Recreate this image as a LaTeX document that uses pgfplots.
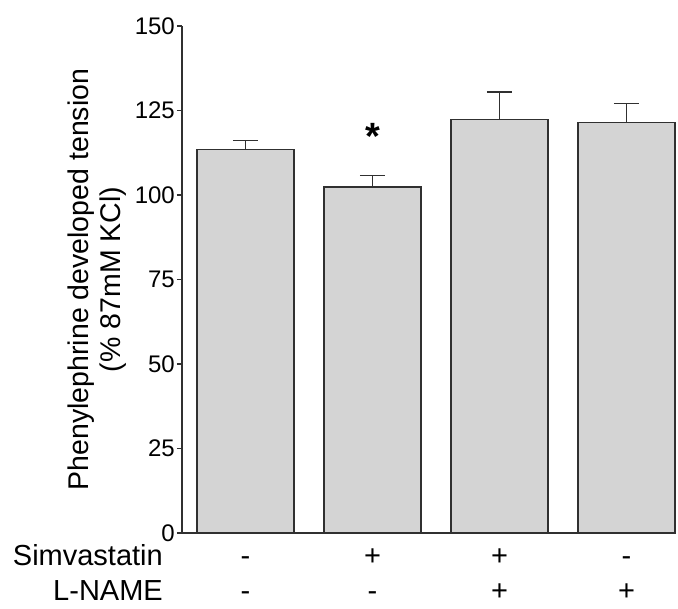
\documentclass[border=0pt]{standalone}
\usepackage{pgfplots}
\pgfplotsset{compat=1.18}
\usepackage{fontspec}
\setmainfont{Liberation Sans}
\definecolor{barfill}{HTML}{D4D4D4}
\definecolor{edge}{HTML}{303030}
\newcommand{\lbl}{\fontsize{29}{29}\selectfont}
\begin{document}
\begin{tikzpicture}
\begin{axis}[
 at={(0,0)}, anchor=south west,
 scale only axis, width=493pt, height=507pt,
 xmin=-0.5, xmax=3.382, ymin=0, ymax=150,
 axis x line=bottom, axis y line=left,
 axis line style={-, line width=1.5pt, edge},
 xtick=\empty,
 ytick={0,25,...,150},
 tick align=outside, major tick length=5pt,
 tick style={line width=1.2pt, edge},
 yticklabel style={font=\fontsize{24}{24}\selectfont, inner xsep=2pt},
 /pgf/number format/assume math mode=true,
 clip=false,
]
\addplot[ybar, bar width=97pt, fill=barfill, draw=edge, line width=1.5pt,
  error bars/.cd, y dir=plus, y explicit,
  error bar style={line width=1.5pt, edge},
  error mark options={rotate=90, mark size=12.5pt, line width=1.5pt, edge}]
 coordinates {(0,113.5) +- (0,2.6) (1,102.3) +- (0,3.4) (2,122.3) +- (0,8.2) (3,121.5) +- (0,5.6)};
\node[font=\fontsize{38}{38}\selectfont\bfseries] at (axis cs:1,117.3) {*};
\begin{scope}[every node/.style={font=\lbl, anchor=base, inner sep=0pt}]
\node at (axis cs:0,0) [yshift=-33pt] {-};
\node at (axis cs:1,0) [yshift=-33pt] {+};
\node at (axis cs:2,0) [yshift=-33pt] {+};
\node at (axis cs:3,0) [yshift=-33pt] {-};
\node at (axis cs:0,0) [yshift=-68pt] {-};
\node at (axis cs:1,0) [yshift=-68pt] {-};
\node at (axis cs:2,0) [yshift=-68pt] {+};
\node at (axis cs:3,0) [yshift=-68pt] {+};
\end{scope}
\end{axis}
\node[rotate=90, align=center, font=\fontsize{28.5}{32}\selectfont] at (-85pt,253.5pt) {Phenylephrine developed tension\\(\% 87mM KCl)};
\node[anchor=base east, font=\lbl, inner sep=0pt] at (-19pt,-33pt) {Simvastatin};
\node[anchor=base east, font=\lbl, inner sep=0pt] at (-19pt,-68pt) {L-NAME};
\pgfresetboundingbox
\path (-182pt,-76pt) rectangle (496pt,533pt);
\end{tikzpicture}
\end{document}
